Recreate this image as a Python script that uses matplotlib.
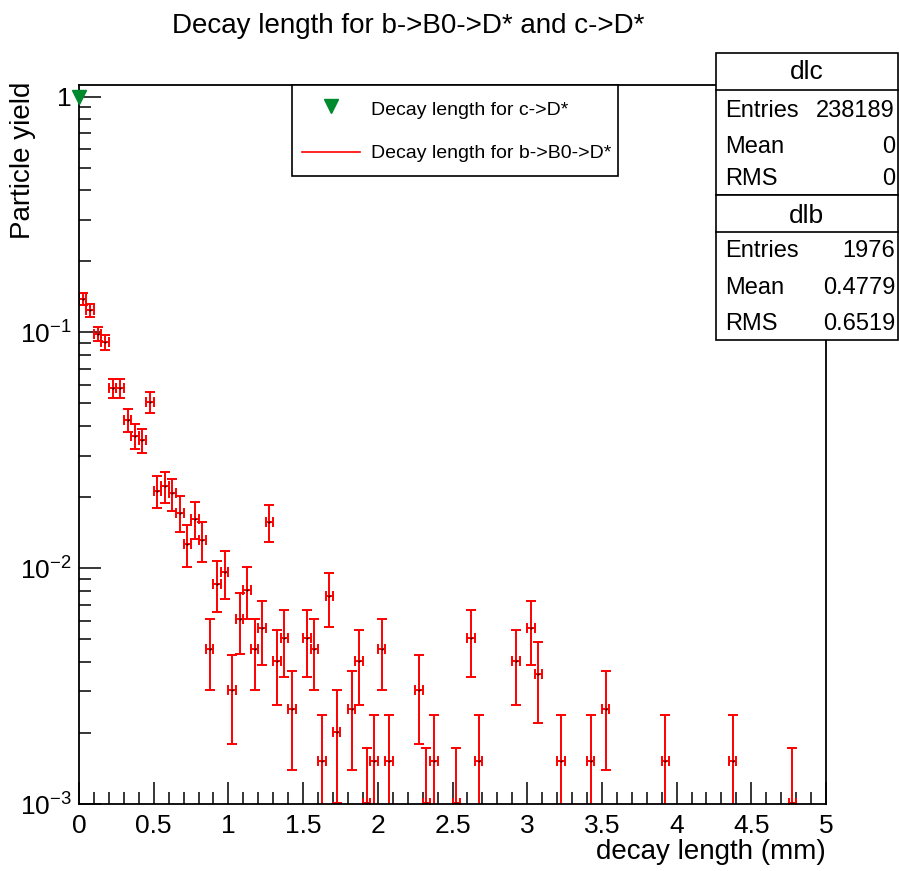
import numpy as np
import matplotlib
matplotlib.use("Agg")
import matplotlib.pyplot as plt
from matplotlib.lines import Line2D
from matplotlib.patches import Rectangle
from matplotlib.ticker import MultipleLocator, FuncFormatter, LogLocator

plt.rcParams['font.family'] = ['Liberation Sans', 'DejaVu Sans']
plt.rcParams['mathtext.fontset'] = 'custom'
plt.rcParams['mathtext.rm'] = 'Liberation Sans'
plt.rcParams['mathtext.it'] = 'Liberation Sans:italic'

# dlb (b->B0->D*): 0.05 mm bins, raw counts, empty bins left out
dlb_centers = [0.025, 0.075, 0.125, 0.175, 0.225, 0.275, 0.325, 0.375, 0.425, 0.475,
               0.525, 0.575, 0.625, 0.675, 0.725, 0.775, 0.825, 0.875, 0.925, 0.975,
               1.025, 1.075, 1.125, 1.175, 1.225, 1.275, 1.325, 1.375, 1.425,
               1.525, 1.575, 1.625, 1.675, 1.725, 1.825, 1.875, 1.925, 1.975, 2.025, 2.075,
               2.275, 2.325, 2.375, 2.525, 2.625, 2.675, 2.925, 3.025, 3.075,
               3.225, 3.425, 3.525, 3.925, 4.375, 4.775]
dlb_counts = [275, 245, 195, 180, 115, 115, 84, 72, 69, 100,
              42, 44, 41, 34, 25, 32, 26, 9, 17, 19,
              6, 12, 16, 9, 11, 31, 8, 10, 5,
              10, 9, 3, 15, 4, 5, 8, 2, 3, 9, 3,
              6, 2, 3, 2, 10, 3, 8, 11, 7,
              3, 3, 5, 3, 3, 2]
dlb_entries = 1976
dlb_mean, dlb_rms = 0.4779, 0.6519
bin_half = 0.025

# dlc (c->D*): everything sits at zero
dlc_x = [0.0]
dlc_y = [1.0]
dlc_entries = 238189
dlc_mean, dlc_rms = 0, 0

green = '#008a2e'
W, H = 899, 871
fig = plt.figure(figsize=(W / 100, H / 100), dpi=100)
ax = fig.add_axes([79 / W, 1 - 804 / H, (826 - 79) / W, (804 - 85) / H])

cnt = np.array(dlb_counts, float)
yv = cnt / dlb_entries
ye = np.sqrt(cnt) / dlb_entries
ax.errorbar(dlb_centers, yv, yerr=ye, xerr=bin_half, fmt='none', ecolor='red',
            elinewidth=1.4, capsize=3.8, capthick=1.4)
ax.plot(dlb_centers, yv, ls='none', marker='s', ms=1.3, mew=0, color='black')
ax.plot(dlc_x, dlc_y, ls='none', marker='v', ms=10, color=green, clip_on=False, zorder=5)

ax.set_yscale('log', nonpositive='clip')
ax.set_xlim(0, 5)
ax.set_ylim(1e-3, 1.12)
ax.xaxis.set_major_locator(MultipleLocator(0.5))
ax.xaxis.set_minor_locator(MultipleLocator(0.1))
ax.xaxis.set_major_formatter(FuncFormatter(lambda v, _: f"{v:g}"))
ax.yaxis.set_major_locator(LogLocator(base=10))
ax.yaxis.set_minor_locator(LogLocator(base=10, subs=np.arange(2, 10)))
ax.yaxis.set_minor_formatter(FuncFormatter(lambda v, _: ""))
ax.yaxis.set_major_formatter(FuncFormatter(
    lambda v, _: "1" if abs(v - 1) < 1e-9 else r"$10^{%d}$" % round(np.log10(v))))
ax.tick_params(which='both', direction='in', top=False, right=False, width=1.1)
ax.tick_params(which='major', length=16)
ax.tick_params(which='minor', length=8.5)
ax.tick_params(axis='x', pad=7.5, labelsize=19)
ax.tick_params(axis='y', pad=5, labelsize=19)
for s in ax.spines.values():
    s.set_linewidth(1.3)

fig.text(408 / W, 1 - 33 / H, "Decay length for b->B0->D* and c->D*", ha='center', va='baseline', fontsize=20)
fig.text(826 / W, 1 - 859 / H, "decay length (mm)", ha='right', va='baseline', fontsize=20)
fig.text(23 / W, 1 - 82 / H, "Particle yield", rotation=90, ha='center', va='top', fontsize=20)

# legend box, drawn by hand to match the ROOT TLegend
lx0, lx1, ly0, ly1 = 291.7, 618, 85, 176
fig.add_artist(Rectangle((lx0 / W, 1 - ly1 / H), (lx1 - lx0) / W, (ly1 - ly0) / H,
                         transform=fig.transFigure, facecolor='white', edgecolor='black',
                         lw=1.2, zorder=8))
fig.add_artist(Line2D([330.5 / W], [1 - 106 / H], transform=fig.transFigure, ls='none',
                      marker='v', ms=10, color=green, zorder=9))
fig.add_artist(Line2D([301.7 / W, 360 / W], [1 - 151.7 / H] * 2, transform=fig.transFigure,
                      color='red', lw=1.2, zorder=9))
fig.text(370.7 / W, 1 - 115 / H, "Decay length for c->D*", ha='left', va='baseline',
         fontsize=14, zorder=9)
fig.text(370.7 / W, 1 - 158.3 / H, "Decay length for b->B0->D*", ha='left', va='baseline',
         fontsize=14, zorder=9)


# ROOT style stat boxes
def stat_box(name, rows, top, head, bottom, base_head, bases):
    x0, x1 = 715.7, 897.5
    fig.add_artist(Rectangle((x0 / W, 1 - bottom / H), (x1 - x0) / W, (bottom - top) / H,
                             transform=fig.transFigure, facecolor='white',
                             edgecolor='black', lw=1.2, zorder=10))
    fig.add_artist(Line2D([x0 / W, x1 / W], [1 - head / H] * 2, transform=fig.transFigure,
                          color='black', lw=1.2, zorder=11))
    fig.text((x0 + x1) / 2 / W, 1 - base_head / H, name, ha='center', va='baseline',
             fontsize=19, zorder=12)
    for (lab, val), b in zip(rows, bases):
        fig.text(725 / W, 1 - b / H, lab, ha='left', va='baseline', fontsize=17, zorder=12)
        fig.text(895 / W, 1 - b / H, val, ha='right', va='baseline', fontsize=17, zorder=12)


stat_box("dlc", [("Entries", f"{dlc_entries}"), ("Mean", f"{dlc_mean}"), ("RMS", f"{dlc_rms}")],
         53.3, 90, 195, 79.3, [116.7, 153.3, 185])
stat_box("dlb", [("Entries", f"{dlb_entries}"), ("Mean", f"{dlb_mean}"), ("RMS", f"{dlb_rms}")],
         195, 231.7, 340, 223.3, [257.3, 294, 330])

fig.savefig("out.png", dpi=100)
